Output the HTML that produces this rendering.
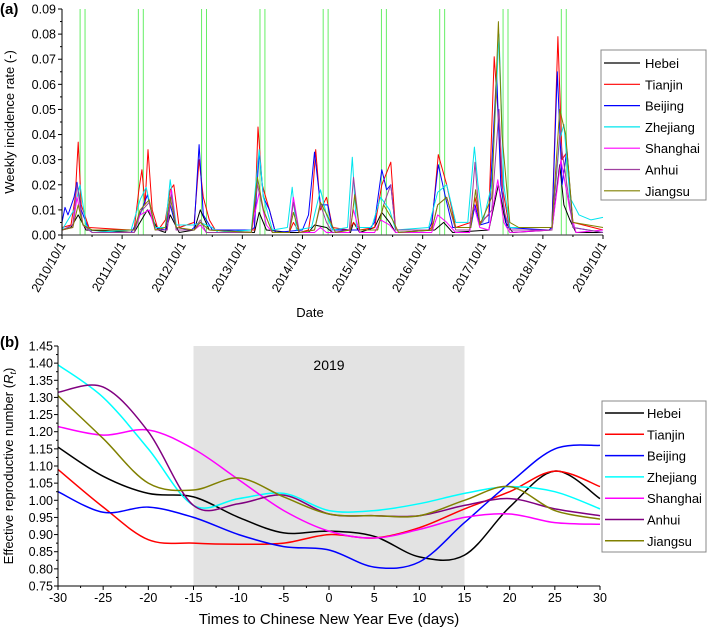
<!DOCTYPE html>
<html><head><meta charset="utf-8">
<style>
html,body{margin:0;padding:0;background:#fff;}
svg{display:block;font-family:"Liberation Sans","DejaVu Sans",sans-serif;}
</style></head>
<body>
<svg id="fig" width="708" height="631" viewBox="0 0 708 631" xmlns="http://www.w3.org/2000/svg"></svg>
<script>
// ---------- Panel (a) data: [years since 2010/10/1, weekly incidence rate] ----------
const namesA = ["Hebei","Tianjin","Beijing","Zhejiang","Shanghai","Anhui","Jiangsu"];
const colorsA = ["#000000","#ff0000","#0000ff","#00e5ee","#ff00ff","#a040a0","#808000"];
const yTicksA = [0,0.01,0.02,0.03,0.04,0.05,0.06,0.07,0.08,0.09];
const yearLabelsA = ["2010/10/1","2011/10/1","2012/10/1","2013/10/1","2014/10/1","2015/10/1","2016/10/1","2017/10/1","2018/10/1","2019/10/1"];
const cnyDaysA = [125,479,863,1218,1602,1956,2310,2695,3049];
const hebeiA = [[0,0.002],[0.15,0.003],[0.27,0.008],[0.4,0.002],[1.2,0.001],[1.42,0.01],[1.6,0.002],[1.72,0.001],[1.8,0.008],[1.95,0.001],[2.2,0.002],[2.3,0.01],[2.45,0.002],[3.2,0.001],[3.28,0.009],[3.4,0.002],[3.8,0.001],[4.1,0.001],[4.2,0.004],[4.4,0.003],[4.5,0.001],[4.8,0.001],[4.85,0.005],[4.95,0.001],[5.2,0.003],[5.32,0.009],[5.45,0.005],[5.55,0.001],[6.2,0.002],[6.35,0.005],[6.5,0.001],[7.1,0.002],[7.26,0.02],[7.38,0.005],[7.5,0.001],[8.15,0.002],[8.28,0.028],[8.35,0.012],[8.45,0.006],[8.55,0.001],[9,0.001]];
const tianjinA = [[0,0.003],[0.15,0.004],[0.22,0.015],[0.27,0.037],[0.32,0.012],[0.45,0.003],[1.15,0.002],[1.2,0.002],[1.28,0.018],[1.33,0.026],[1.38,0.012],[1.43,0.034],[1.5,0.01],[1.6,0.002],[1.72,0.006],[1.8,0.018],[1.86,0.02],[1.95,0.003],[2.2,0.005],[2.28,0.03],[2.35,0.015],[2.45,0.006],[2.55,0.002],[3.15,0.002],[3.2,0.002],[3.26,0.043],[3.33,0.02],[3.45,0.01],[3.55,0.001],[3.78,0.001],[3.85,0.005],[3.95,0.001],[4.1,0.002],[4.15,0.01],[4.22,0.034],[4.3,0.01],[4.4,0.015],[4.5,0.003],[4.78,0.002],[4.85,0.005],[4.95,0.002],[5.2,0.003],[5.32,0.02],[5.47,0.029],[5.55,0.002],[6.1,0.002],[6.15,0.003],[6.26,0.032],[6.4,0.02],[6.55,0.003],[6.8,0.005],[6.87,0.015],[6.95,0.005],[7.1,0.008],[7.19,0.071],[7.25,0.05],[7.32,0.02],[7.45,0.002],[8.1,0.002],[8.15,0.003],[8.25,0.079],[8.32,0.03],[8.4,0.033],[8.5,0.005],[9,0.002]];
const beijingA = [[0,0.005],[0.05,0.011],[0.1,0.008],[0.2,0.015],[0.25,0.021],[0.32,0.01],[0.45,0.002],[0.5,0.001],[1.15,0.001],[1.25,0.005],[1.42,0.016],[1.55,0.003],[1.72,0.002],[1.8,0.012],[1.9,0.003],[2.15,0.002],[2.2,0.003],[2.28,0.036],[2.35,0.008],[2.5,0.002],[3.15,0.002],[3.2,0.003],[3.28,0.033],[3.35,0.015],[3.45,0.01],[3.55,0.001],[4.0,0.002],[4.1,0.008],[4.2,0.033],[4.3,0.012],[4.42,0.012],[4.5,0.002],[4.85,0.002],[5.1,0.002],[5.2,0.005],[5.32,0.026],[5.4,0.018],[5.47,0.02],[5.55,0.002],[6.1,0.002],[6.15,0.005],[6.26,0.028],[6.38,0.015],[6.5,0.003],[6.8,0.003],[6.87,0.012],[6.95,0.004],[7.1,0.005],[7.23,0.065],[7.3,0.02],[7.4,0.003],[8.1,0.002],[8.15,0.003],[8.24,0.065],[8.32,0.02],[8.4,0.034],[8.5,0.003],[9,0.001]];
const zhejiangA = [[0,0.002],[0.2,0.01],[0.3,0.02],[0.4,0.004],[0.5,0.001],[1.15,0.002],[1.3,0.014],[1.4,0.019],[1.55,0.003],[1.72,0.003],[1.8,0.022],[1.9,0.004],[2.2,0.004],[2.3,0.005],[2.5,0.003],[2.6,0.001],[3.15,0.002],[3.28,0.034],[3.35,0.015],[3.5,0.002],[3.75,0.003],[3.83,0.019],[3.9,0.002],[4.15,0.003],[4.3,0.018],[4.4,0.008],[4.5,0.002],[4.75,0.003],[4.83,0.031],[4.9,0.003],[5.15,0.003],[5.3,0.015],[5.45,0.01],[5.55,0.002],[6.1,0.003],[6.15,0.008],[6.25,0.017],[6.4,0.02],[6.55,0.005],[6.75,0.005],[6.86,0.035],[6.92,0.02],[7.0,0.005],[7.15,0.02],[7.27,0.08],[7.35,0.02],[7.45,0.003],[8.15,0.003],[8.28,0.038],[8.35,0.044],[8.45,0.015],[8.6,0.008],[8.8,0.006],[9,0.007]];
const shanghaiA = [[0,0.002],[0.18,0.003],[0.25,0.015],[0.35,0.004],[0.5,0.001],[1.2,0.001],[1.3,0.008],[1.45,0.01],[1.55,0.002],[1.75,0.002],[1.82,0.018],[1.9,0.002],[2.2,0.002],[2.3,0.004],[2.4,0.001],[3.15,0.001],[3.22,0.01],[3.28,0.017],[3.4,0.004],[3.5,0.001],[3.78,0.001],[3.85,0.015],[3.95,0.001],[4.2,0.001],[4.3,0.003],[4.4,0.001],[4.78,0.001],[4.85,0.01],[4.95,0.001],[5.2,0.001],[5.3,0.006],[5.45,0.004],[5.55,0.001],[6.15,0.001],[6.25,0.008],[6.4,0.005],[6.55,0.001],[6.78,0.001],[6.85,0.012],[6.95,0.003],[7.1,0.002],[7.25,0.022],[7.35,0.005],[7.45,0.001],[8.15,0.002],[8.3,0.03],[8.45,0.01],[8.55,0.001],[9,0.002]];
const anhuiA = [[0,0.002],[0.18,0.004],[0.25,0.02],[0.35,0.004],[0.5,0.001],[1.2,0.001],[1.3,0.009],[1.45,0.013],[1.55,0.002],[1.75,0.002],[1.82,0.016],[1.9,0.002],[2.2,0.002],[2.3,0.006],[2.4,0.001],[3.15,0.001],[3.25,0.02],[3.35,0.01],[3.5,0.001],[3.78,0.001],[3.85,0.013],[3.95,0.001],[4.2,0.002],[4.3,0.012],[4.4,0.005],[4.5,0.001],[4.78,0.002],[4.85,0.023],[4.95,0.002],[5.25,0.002],[5.35,0.012],[5.47,0.02],[5.55,0.002],[6.15,0.002],[6.25,0.012],[6.4,0.015],[6.55,0.002],[6.78,0.002],[6.87,0.029],[6.95,0.004],[7.15,0.01],[7.27,0.05],[7.35,0.01],[7.45,0.002],[8.15,0.002],[8.28,0.04],[8.4,0.02],[8.5,0.003],[9,0.001]];
const jiangsuA = [[0,0.002],[0.18,0.003],[0.27,0.012],[0.35,0.004],[0.5,0.002],[1.2,0.002],[1.3,0.01],[1.45,0.014],[1.55,0.002],[1.72,0.003],[1.8,0.015],[1.9,0.003],[2.2,0.002],[2.3,0.005],[2.45,0.002],[3.15,0.001],[3.25,0.023],[3.35,0.01],[3.5,0.001],[3.78,0.001],[3.85,0.009],[3.95,0.001],[4.2,0.002],[4.3,0.013],[4.45,0.006],[4.55,0.001],[4.8,0.002],[4.87,0.016],[4.95,0.002],[5.25,0.002],[5.35,0.012],[5.5,0.006],[5.6,0.001],[6.15,0.002],[6.25,0.012],[6.4,0.015],[6.55,0.003],[6.8,0.003],[6.88,0.018],[6.95,0.004],[7.15,0.015],[7.26,0.085],[7.32,0.04],[7.45,0.005],[7.6,0.003],[8.15,0.003],[8.28,0.05],[8.38,0.04],[8.5,0.005],[9,0.003]];

// ---------- Panel (b) data ----------
const daysB = [-30,-25,-20,-15,-10,-5,0,5,10,15,20,25,30];
const xTicksB = [-30,-25,-20,-15,-10,-5,0,5,10,15,20,25,30];
const yTicksB = [0.75,0.80,0.85,0.90,0.95,1.00,1.05,1.10,1.15,1.20,1.25,1.30,1.35,1.40,1.45];
const namesB = ["Hebei","Tianjin","Beijing","Zhejiang","Shanghai","Anhui","Jiangsu"];
const colorsB = ["#000000","#ff0000","#0000ff","#00ffff","#ff00ff","#800080","#808000"];
const hebeiB = [1.155,1.07,1.02,1.01,0.95,0.905,0.91,0.895,0.835,0.84,0.98,1.085,1.005];
const tianjinB = [1.09,0.98,0.885,0.875,0.872,0.875,0.9,0.89,0.92,0.975,1.025,1.085,1.04];
const beijingB = [1.025,0.965,0.98,0.95,0.9,0.865,0.855,0.805,0.82,0.935,1.05,1.15,1.16];
const zhejiangB = [1.395,1.30,1.15,0.985,1.005,1.02,0.97,0.97,0.99,1.02,1.04,1.025,0.975];
const shanghaiB = [1.215,1.19,1.205,1.15,1.06,0.97,0.91,0.89,0.915,0.95,0.96,0.935,0.93];
const anhuiB = [1.315,1.33,1.2,0.985,0.99,1.015,0.96,0.955,0.955,0.985,1.005,0.975,0.955];
const jiangsuB = [1.305,1.18,1.05,1.03,1.065,1.01,0.96,0.955,0.955,1.0,1.04,0.97,0.945];
const shadeB = [-15,15];

const NS="http://www.w3.org/2000/svg";
const svg=document.getElementById('fig');
function mk(tag,attrs,parent){const e=document.createElementNS(NS,tag);for(const k in attrs)e.setAttribute(k,attrs[k]);(parent||svg).appendChild(e);return e;}
function txt(s,attrs,parent){const e=mk('text',attrs,parent);e.textContent=s;return e;}

// ===== Panel A =====
const aL=62,aR=603,aT=9,aB=235;
const xA=t=>aL+(aR-aL)*t/9;
const yA=v=>aB-(aB-aT)*v/0.09;
const gA=mk('g',{});


const pa=txt('(a)',{x:0,y:14,'font-size':15,'font-weight':'bold'},gA);

cnyDaysA.forEach(d=>{[-15,15].forEach(o=>{const t=(d+o)/365.25;const l=mk('line',{x1:xA(t),x2:xA(t),y1:aT,y2:aB,stroke:'#66ee66','stroke-width':1},gA);
});});
const seriesA=[hebeiA,tianjinA,beijingA,zhejiangA,shanghaiA,anhuiA,jiangsuA];
seriesA.forEach((s,i)=>{const p=mk('polyline',{points:s.map(q=>xA(q[0]).toFixed(1)+','+yA(q[1]).toFixed(1)).join(' '),fill:'none',stroke:colorsA[i],'stroke-width':1,'stroke-linejoin':'round'},gA);
});
mk('line',{x1:aL,x2:aL,y1:aT,y2:aB,stroke:'#000','stroke-width':1},gA);
mk('line',{x1:aL,x2:aR,y1:aB,y2:aB,stroke:'#555','stroke-width':1.2},gA);
yTicksA.forEach((v,i)=>{mk('line',{x1:aL-4,x2:aL,y1:yA(v),y2:yA(v),stroke:'#000'},gA);
 if(i<yTicksA.length-1)mk('line',{x1:aL-2,x2:aL,y1:yA(v+0.005),y2:yA(v+0.005),stroke:'#000'},gA);
 const t=txt(v.toFixed(2),{x:aL-6,y:yA(v)+4.5,'font-size':12.5,'text-anchor':'end'},gA);
 });
yearLabelsA.forEach((s,i)=>{const x=xA(i);mk('line',{x1:x,x2:x,y1:aB,y2:aB+4,stroke:'#000'},gA);
 if(i<9)mk('line',{x1:xA(i+0.5),x2:xA(i+0.5),y1:aB,y2:aB+2,stroke:'#000'},gA);
 const t=txt(s,{x:0,y:0,'font-size':12.5,'text-anchor':'end',transform:`translate(${x+4},${aB+10}) rotate(-60)`},gA);
 });
const xta=txt('Date',{x:310,y:317,'font-size':13,'text-anchor':'middle'},gA);

const yta=txt('Weekly incidence rate (-)',{x:0,y:0,'font-size':13,'text-anchor':'middle',transform:`translate(14,122) rotate(-90)`},gA);

const lgA=mk('g',{},gA);
mk('rect',{x:601,y:50,width:105,height:150,fill:'#fff',stroke:'#888'},lgA);
namesA.forEach((n,i)=>{const y=63+i*21.3;mk('line',{x1:604,x2:640,y1:y,y2:y,stroke:colorsA[i],'stroke-width':1.2},lgA);
 const t=txt(n,{x:645,y:y+5,'font-size':13},lgA);});

// ===== Panel B =====
const bL=58,bR=600,bT=346,bB=586;
const xB=d=>bL+(bR-bL)*(d+30)/60;
const yB=v=>bB-(bB-bT)*(v-0.75)/0.70;
const gB=mk('g',{});
const pb=txt('(b)',{x:0,y:347,'font-size':15,'font-weight':'bold'},gB);

const sh=mk('rect',{x:xB(shadeB[0]),y:bT,width:xB(shadeB[1])-xB(shadeB[0]),height:bB-bT,fill:'#e3e3e3'},gB);

const yr=txt('2019',{x:xB(0),y:370,'font-size':14,'text-anchor':'middle'},gB);

function smooth(xs,ys){const P=xs.map((x,i)=>[xB(x),yB(ys[i])]);let d=`M${P[0][0].toFixed(1)},${P[0][1].toFixed(1)}`;
 for(let i=0;i<P.length-1;i++){const p0=P[Math.max(0,i-1)],p1=P[i],p2=P[i+1],p3=P[Math.min(P.length-1,i+2)];
 const c1=[p1[0]+(p2[0]-p0[0])/6,p1[1]+(p2[1]-p0[1])/6],c2=[p2[0]-(p3[0]-p1[0])/6,p2[1]-(p3[1]-p1[1])/6];
 d+=` C${c1[0].toFixed(1)},${c1[1].toFixed(1)} ${c2[0].toFixed(1)},${c2[1].toFixed(1)} ${p2[0].toFixed(1)},${p2[1].toFixed(1)}`;}return d;}
const seriesB=[hebeiB,tianjinB,beijingB,zhejiangB,shanghaiB,anhuiB,jiangsuB];
seriesB.forEach((s,i)=>{const p=mk('path',{d:smooth(daysB,s),fill:'none',stroke:colorsB[i],'stroke-width':1.5},gB);
 });
mk('line',{x1:bL,x2:bL,y1:bT,y2:bB,stroke:'#000'},gB);
mk('line',{x1:bL,x2:bR,y1:bB,y2:bB,stroke:'#000'},gB);
yTicksB.forEach((v,i)=>{mk('line',{x1:bL-4,x2:bL,y1:yB(v),y2:yB(v),stroke:'#000'},gB);
 if(i<yTicksB.length-1)mk('line',{x1:bL-2,x2:bL,y1:yB(v+0.025),y2:yB(v+0.025),stroke:'#000'},gB);
 const t=txt(v.toFixed(2),{x:bL-5,y:yB(v)+4.5,'font-size':12.5,'text-anchor':'end'},gB);
 });
xTicksB.forEach((d,i)=>{mk('line',{x1:xB(d),x2:xB(d),y1:bB,y2:bB+4,stroke:'#000'},gB);
 if(i<xTicksB.length-1)mk('line',{x1:xB(d+2.5),x2:xB(d+2.5),y1:bB,y2:bB+2,stroke:'#000'},gB);
 const t=txt(String(d),{x:xB(d),y:bB+16,'font-size':12.5,'text-anchor':'middle'},gB);
 });
const xtb=txt('Times to Chinese New Year Eve (days)',{x:xB(0),y:624,'font-size':15,'text-anchor':'middle'},gB);

const ytb=mk('text',{x:0,y:0,'font-size':13,'text-anchor':'middle',transform:`translate(13,466) rotate(-90)`},gB);

ytb.appendChild(document.createTextNode('Effective reproductive number ('));
const ti=mk('tspan',{'font-style':'italic'},ytb);ti.textContent='R';
const ts=mk('tspan',{'font-style':'italic','font-size':9,dy:3},ytb);ts.textContent='t';
const tc=mk('tspan',{dy:-3},ytb);tc.textContent=')';
const lgB=mk('g',{},gB);
mk('rect',{x:602,y:401,width:104,height:151,fill:'#fff',stroke:'#888'},lgB);
namesB.forEach((n,i)=>{const y=413+i*21.3;mk('line',{x1:605,x2:644,y1:y,y2:y,stroke:colorsB[i],'stroke-width':1.5},lgB);
 const t=txt(n,{x:647,y:y+5,'font-size':13},lgB);});
</script>
</body></html>
